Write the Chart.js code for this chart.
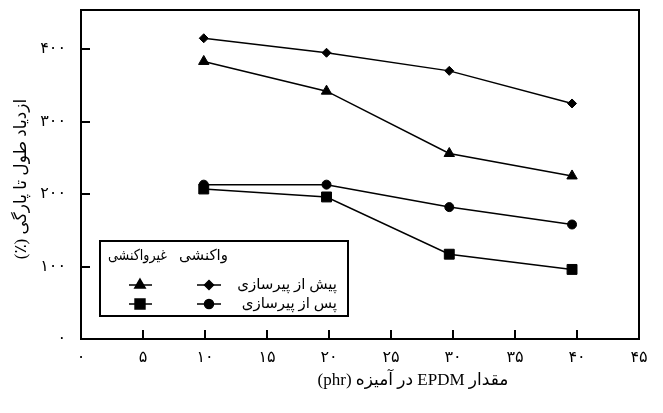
<!DOCTYPE html>
<html>
<head>
<meta charset="utf-8">
<script src="https://cdn.jsdelivr.net/npm/chart.js@4/dist/chart.umd.min.js"></script>
<style>
  html, body { margin: 0; padding: 0; background: #fff; }
  #wrap { width: 663px; height: 413px; }
</style>
</head>
<body>
<div id="wrap"><canvas id="chart" width="663" height="413"></canvas></div>
<script>
// --- data ---
const xValues = [9.9, 19.8, 29.7, 39.6];           // EPDM (phr)
const reactiveBefore = [415, 395, 370, 325];        // diamond
const nonReactiveBefore = [383, 342, 256, 225];     // triangle
const reactiveAfter = [213, 213, 182, 158];         // circle
const nonReactiveAfter = [207, 196, 117, 96];       // square

const xTickValues = [0, 5, 10, 15, 20, 25, 30, 35, 40, 45];
const xTickLabels = ['۰', '۵', '۱۰', '۱۵', '۲۰', '۲۵', '۳۰', '۳۵', '۴۰', '۴۵'];
const yTickValues = [0, 100, 200, 300, 400];
const yTickLabels = ['۰', '۱۰۰', '۲۰۰', '۳۰۰', '۴۰۰'];

const xTitle = 'مقدار EPDM در آمیزه (phr)';
const yTitle = 'ازدیاد طول تا پارگی (٪)';
const legendHead = ['غیرواکنشی', 'واکنشی'];
const legendRows = ['پیش از پیرسازی', 'پس از پیرسازی'];

const FONT = '"Liberation Serif", "DejaVu Sans", serif';

function pts(ys){ return ys.map((y, i) => ({x: xValues[i], y})); }

function series(ys, style, r){
  return {
    data: pts(ys),
    borderColor: '#000', backgroundColor: '#000',
    borderWidth: 1.5, tension: 0, fill: false,
    pointStyle: style, pointRadius: r, pointHoverRadius: r,
    pointBackgroundColor: '#000', pointBorderColor: '#000', pointBorderWidth: 1
  };
}

function mark(ctx, style, r, x, y){
  ctx.fillStyle = '#000'; ctx.strokeStyle = '#000';
  Chart.helpers.drawPoint(ctx, {pointStyle: style, radius: r, borderWidth: 1, rotation: 0}, x, y);
}

const decor = {
  id: 'decor',
  afterDraw(chart){
    const {ctx, chartArea: a, scales: {x, y}} = chart;
    ctx.save();
    ctx.strokeStyle = '#000';
    // frame
    ctx.lineWidth = 2;
    ctx.strokeRect(a.left, a.top, a.right - a.left, a.bottom - a.top);
    // inward ticks
    ctx.beginPath();
    xTickValues.forEach(v => {
      const px = Math.round(x.getPixelForValue(v));
      ctx.moveTo(px, a.bottom); ctx.lineTo(px, a.bottom - 9);
    });
    yTickValues.forEach(v => {
      const py = Math.round(y.getPixelForValue(v));
      ctx.moveTo(a.left, py); ctx.lineTo(a.left + 9, py);
    });
    ctx.stroke();

    // axis titles
    ctx.fillStyle = '#000';
    ctx.direction = 'rtl';
    ctx.textBaseline = 'middle';
    ctx.textAlign = 'center';
    ctx.font = '17px ' + FONT;
    ctx.fillText(xTitle, 413, 381);
    ctx.save();
    ctx.translate(22, 179);
    ctx.rotate(-Math.PI / 2);
    ctx.fillText(yTitle, 0, 0);
    ctx.restore();

    // legend
    ctx.lineWidth = 2;
    ctx.strokeRect(100, 241, 248, 75);
    ctx.font = '15px ' + FONT;
    ctx.textAlign = 'right';
    ctx.fillText(legendHead[0], 167, 256, 59);
    ctx.fillText(legendHead[1], 228, 256, 50);
    ctx.fillText(legendRows[0], 337, 285);
    ctx.fillText(legendRows[1], 337, 304);
    ctx.lineWidth = 1.5;
    ctx.beginPath();
    [285, 304].forEach(ry => {
      ctx.moveTo(129, ry); ctx.lineTo(152, ry);
      ctx.moveTo(197, ry); ctx.lineTo(221, ry);
    });
    ctx.stroke();
    mark(ctx, 'triangle', 6, 140, 285);
    mark(ctx, 'rect', 7, 140, 304);
    mark(ctx, 'rectRot', 4.5, 209, 285);
    mark(ctx, 'circle', 4.5, 209, 304);
    ctx.restore();
  }
};

new Chart(document.getElementById('chart'), {
  type: 'line',
  data: {
    datasets: [
      series(reactiveBefore, 'rectRot', 4.5),
      series(nonReactiveBefore, 'triangle', 6),
      series(reactiveAfter, 'circle', 4.5),
      series(nonReactiveAfter, 'rect', 7)
    ]
  },
  options: {
    responsive: false,
    animation: false,
    layout: { padding: { top: 10, right: 24, left: 0, bottom: 0 } },
    plugins: { legend: { display: false }, tooltip: { enabled: false } },
    scales: {
      x: {
        type: 'linear', min: 0, max: 45,
        grid: { display: false, drawTicks: false },
        border: { display: false },
        afterBuildTicks: s => { s.ticks = xTickValues.map(v => ({value: v})); },
        afterFit: s => { s.height = 74; s.paddingLeft = 0; s.paddingRight = 0; },
        ticks: {
          padding: 9, color: '#000', maxRotation: 0, autoSkip: false,
          font: { family: FONT, size: 16 },
          callback: v => xTickLabels[xTickValues.indexOf(v)]
        }
      },
      y: {
        type: 'linear', min: 0, max: 454,
        grid: { display: false, drawTicks: false },
        border: { display: false },
        afterBuildTicks: s => { s.ticks = yTickValues.map(v => ({value: v})); },
        afterFit: s => { s.width = 81; s.paddingTop = 0; s.paddingBottom = 0; },
        ticks: {
          padding: 15, color: '#000',
          font: { family: FONT, size: 16 },
          callback: v => yTickLabels[yTickValues.indexOf(v)]
        }
      }
    }
  },
  plugins: [decor]
});
</script>
</body>
</html>
